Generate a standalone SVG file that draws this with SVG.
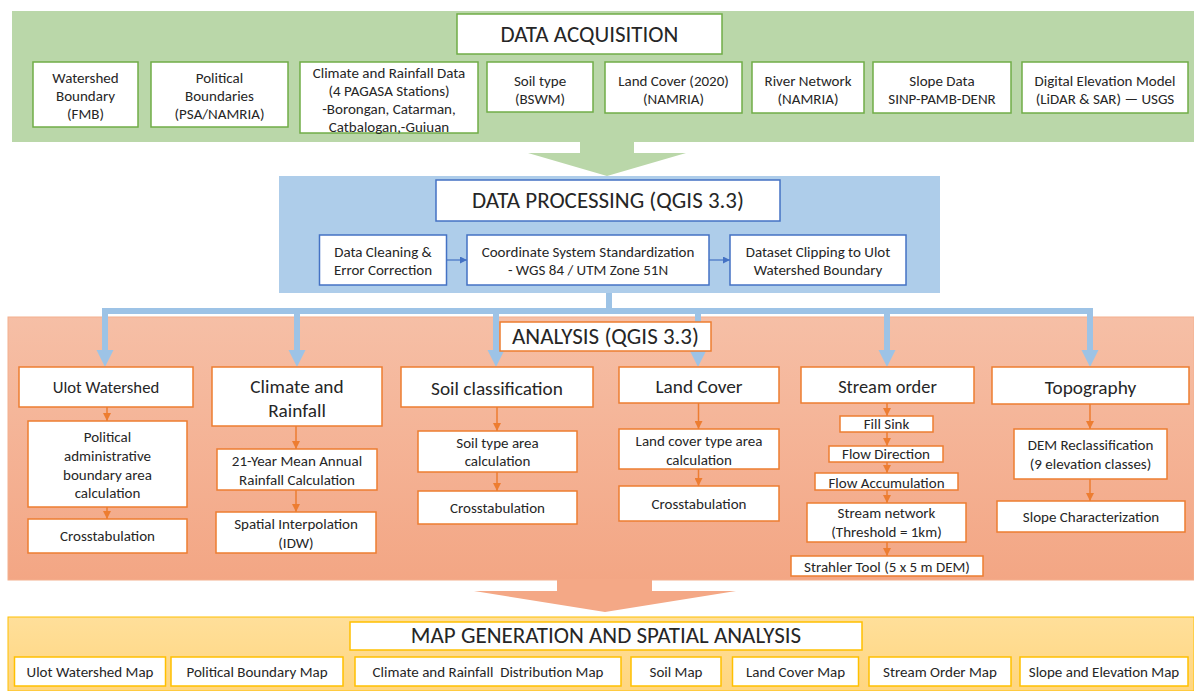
<svg xmlns="http://www.w3.org/2000/svg" width="1194" height="691" viewBox="0 0 1194 691">
<defs>
<linearGradient id="gOr" x1="0" y1="0" x2="0" y2="1"><stop offset="0" stop-color="#F6BFA6"/><stop offset="1" stop-color="#F3A684"/></linearGradient>
<linearGradient id="gYe" x1="0" y1="0" x2="0" y2="1"><stop offset="0" stop-color="#FFDF9A"/><stop offset="1" stop-color="#FFD680"/></linearGradient>
<marker id="mO" markerWidth="8" markerHeight="8" refX="8" refY="4" orient="auto" markerUnits="userSpaceOnUse"><path d="M0,0 L8,4 L0,8 z" fill="#ED7D31"/></marker>
<marker id="mB" markerWidth="7" markerHeight="7" refX="7" refY="3.5" orient="auto" markerUnits="userSpaceOnUse"><path d="M0,0 L7,3.5 L0,7 z" fill="#4472C4"/></marker>
<style>
text{font-family:Carlito,Lato,"Liberation Sans",sans-serif;fill:#262626;text-anchor:middle}
.s{font-size:15px}
.h{font-size:19.3px}
.tt{font-size:23px}
.gb{fill:#fff;stroke:#70AD47;stroke-width:1.5}
.bb{fill:#fff;stroke:#4472C4;stroke-width:1.5}
.ob{fill:#fff;stroke:#ED7D31;stroke-width:1.5}
.yb{fill:#fff;stroke:#FFC000;stroke-width:1.5}
.oa{stroke:#ED7D31;stroke-width:1.5;fill:none;marker-end:url(#mO)}
.ba{stroke:#4472C4;stroke-width:1.2;fill:none;marker-end:url(#mB)}
.dl{stroke:#9DC3E6;stroke-width:6;fill:none}
.dh{fill:#9DC3E6}
</style>
</defs>

<g id="bands">
<rect x="12" y="11" width="1182" height="131" fill="#BAD7A9"/>
<rect x="279" y="176" width="661" height="117" fill="#AECDEA"/>
<rect x="8" y="317" width="1186" height="263" fill="url(#gOr)" stroke="#F4B08E" stroke-width="1"/>
<rect x="8" y="617" width="1186" height="74" fill="url(#gYe)" stroke="#FFC000" stroke-width="1"/>
</g>

<g id="connectors">
<polygon points="580,141 634,141 634,153 686,153 607,176 528,153 580,153" fill="#BAD7A9"/>
<polygon points="557,579 652,579 652,591 736,591 605,612 474,591 557,591" fill="#F4A886"/>
<path class="ba" d="M446.5,260 H467"/>
<path class="ba" d="M709,260 H730"/>
<path class="dl" d="M609,293 V311 M105,351 V311 H1090 V351 M297,311 V351 M496,311 V351 M698,311 V351 M887,311 V351"/>
<polygon class="dh" points="96.5,350 113.5,350 105,367"/>
<polygon class="dh" points="288.5,350 305.5,350 297,367"/>
<polygon class="dh" points="487.5,350 504.5,350 496,367"/>
<polygon class="dh" points="689.5,350 706.5,350 698,367"/>
<polygon class="dh" points="878.5,350 895.5,350 887,367"/>
<polygon class="dh" points="1081.5,350 1098.5,350 1090,367"/>
<path class="oa" d="M107,407 V421"/>
<path class="oa" d="M107,507 V519"/>
<path class="oa" d="M296,426 V449"/>
<path class="oa" d="M296,490 V512"/>
<path class="oa" d="M497,407 V431"/>
<path class="oa" d="M497,472 V491"/>
<path class="oa" d="M698.5,403 V429"/>
<path class="oa" d="M698.5,469 V486"/>
<path class="oa" d="M887,403 V416"/>
<path class="oa" d="M887,432 V446"/>
<path class="oa" d="M887,462 V473"/>
<path class="oa" d="M887,490 V503"/>
<path class="oa" d="M887,542 V556"/>
<path class="oa" d="M1090,404 V429"/>
<path class="oa" d="M1090,479 V501"/>
</g>

<g id="data-acquisition">
<rect class="gb" x="457" y="14" width="265" height="40"/>
<text class="tt" x="589.5" y="41.5">DATA ACQUISITION</text>
</g>
<g id="src-watershed"><rect class="gb" x="33" y="62" width="105" height="65"/>
<text class="s" x="85.5" y="82.5">Watershed</text><text class="s" x="85.5" y="101">Boundary</text><text class="s" x="85.5" y="118.5">(FMB)</text></g>
<g id="src-political"><rect class="gb" x="151" y="62" width="137" height="65"/>
<text class="s" x="219.5" y="82.5">Political</text><text class="s" x="219.5" y="101">Boundaries</text><text class="s" x="219.5" y="118.5">(PSA/NAMRIA)</text></g>
<g id="src-climate"><rect class="gb" x="300" y="62" width="178" height="71"/>
<text class="s" x="389" y="77.5">Climate and Rainfall Data</text><text class="s" x="389" y="96">(4 PAGASA Stations)</text><text class="s" x="389" y="113.5">-Borongan, Catarman,</text><text class="s" x="389" y="132">Catbalogan,-Guiuan</text></g>
<g id="src-soil"><rect class="gb" x="487" y="62" width="106" height="50"/>
<text class="s" x="540" y="85.5">Soil type</text><text class="s" x="540" y="103.5">(BSWM)</text></g>
<g id="src-landcover"><rect class="gb" x="605" y="62" width="137" height="51"/>
<text class="s" x="673.5" y="85.5">Land Cover (2020)</text><text class="s" x="673.5" y="103.5">(NAMRIA)</text></g>
<g id="src-river"><rect class="gb" x="752" y="62" width="112" height="51"/>
<text class="s" x="808" y="85.5">River Network</text><text class="s" x="808" y="103.5">(NAMRIA)</text></g>
<g id="src-slope"><rect class="gb" x="873" y="62" width="138" height="51"/>
<text class="s" x="942" y="85.5">Slope Data</text><text class="s" x="942" y="103.5">SINP-PAMB-DENR</text></g>
<g id="src-dem"><rect class="gb" x="1022" y="62" width="166" height="51"/>
<text class="s" x="1105" y="85.5">Digital Elevation Model</text><text class="s" x="1105" y="103.5">(LiDAR &amp; SAR) — USGS</text></g>

<g id="data-processing">
<rect class="bb" x="436" y="180" width="344" height="41"/>
<text class="tt" x="608" y="208">DATA PROCESSING (QGIS 3.3)</text>
</g>
<g id="proc-cleaning"><rect class="bb" x="319.5" y="235" width="127" height="50"/>
<text class="s" x="383" y="257">Data Cleaning &amp;</text><text class="s" x="383" y="274.5">Error Correction</text></g>
<g id="proc-coordinate"><rect class="bb" x="467" y="235" width="242" height="50"/>
<text class="s" x="588" y="257">Coordinate System Standardization</text><text class="s" x="588" y="274.5">- WGS 84 / UTM Zone 51N</text></g>
<g id="proc-clipping"><rect class="bb" x="730" y="235" width="176" height="50"/>
<text class="s" x="818" y="257">Dataset Clipping to Ulot</text><text class="s" x="818" y="274.5">Watershed Boundary</text></g>

<g id="analysis">
<rect class="ob" x="500" y="322" width="211" height="29"/>
<text class="tt" x="605.5" y="344">ANALYSIS (QGIS 3.3)</text>
</g>

<g id="col-ulot">
<rect class="ob" x="19" y="367" width="174" height="40"/>
<text style="font-size:16.7px" x="106" y="392.5">Ulot Watershed</text>
<rect class="ob" x="28" y="421" width="159" height="86"/>
<text class="s" x="107.5" y="442">Political</text><text class="s" x="107.5" y="461">administrative</text><text class="s" x="107.5" y="479.5">boundary area</text><text class="s" x="107.5" y="498">calculation</text>
<rect class="ob" x="28" y="519" width="159" height="34"/>
<text class="s" x="107.5" y="541">Crosstabulation</text>
</g>
<g id="col-climate">
<rect class="ob" x="212" y="367" width="170" height="59"/>
<text class="h" x="297" y="393">Climate and</text><text class="h" x="297" y="416.5">Rainfall</text>
<rect class="ob" x="217" y="449" width="160" height="41"/>
<text class="s" x="297" y="466">21-Year Mean Annual</text><text class="s" x="297" y="484.5">Rainfall Calculation</text>
<rect class="ob" x="216" y="512" width="160" height="41"/>
<text class="s" x="296" y="528.5">Spatial Interpolation</text><text class="s" x="296" y="548">(IDW)</text>
</g>
<g id="col-soil">
<rect class="ob" x="401" y="367" width="192" height="40"/>
<text class="h" x="497" y="394.5">Soil classification</text>
<rect class="ob" x="418" y="431" width="159" height="41"/>
<text class="s" x="497.5" y="447.5">Soil type area</text><text class="s" x="497.5" y="466">calculation</text>
<rect class="ob" x="418" y="491" width="159" height="33"/>
<text class="s" x="497.5" y="512.5">Crosstabulation</text>
</g>
<g id="col-landcover">
<rect class="ob" x="619" y="367" width="160" height="36"/>
<text class="h" x="699" y="393">Land Cover</text>
<rect class="ob" x="619" y="429" width="160" height="40"/>
<text class="s" x="699" y="446">Land cover type area</text><text class="s" x="699" y="464.5">calculation</text>
<rect class="ob" x="619" y="486" width="160" height="35"/>
<text class="s" x="699" y="508.5">Crosstabulation</text>
</g>
<g id="col-stream">
<rect class="ob" x="801" y="367" width="173" height="36"/>
<text style="font-size:18.4px" x="887.5" y="392.5">Stream order</text>
<rect class="ob" x="840" y="416" width="93" height="16"/>
<text class="s" x="886.5" y="429">Fill Sink</text>
<rect class="ob" x="829" y="446" width="114" height="16"/>
<text class="s" x="886" y="459">Flow Direction</text>
<rect class="ob" x="815" y="473" width="143" height="17"/>
<text class="s" x="886.5" y="487.5">Flow Accumulation</text>
<rect class="ob" x="807" y="503" width="159" height="39"/>
<text class="s" x="886.5" y="518">Stream network</text><text class="s" x="886.5" y="537">(Threshold = 1km)</text>
<rect class="ob" x="791" y="556" width="192" height="20"/>
<text class="s" x="887" y="571.5">Strahler Tool (5 x 5 m DEM)</text>
</g>
<g id="col-topography">
<rect class="ob" x="992" y="367" width="197" height="37"/>
<text class="h" x="1090.5" y="393.5">Topography</text>
<rect class="ob" x="1014" y="429" width="153" height="50"/>
<text class="s" x="1090.5" y="450">DEM Reclassification</text><text class="s" x="1090.5" y="469">(9 elevation classes)</text>
<rect class="ob" x="997" y="501" width="188" height="31"/>
<text class="s" x="1091" y="522">Slope Characterization</text>
</g>

<g id="map-generation">
<rect class="yb" x="350" y="622" width="512" height="28"/>
<text class="tt" x="606" y="643">MAP GENERATION AND SPATIAL ANALYSIS</text>
</g>
<g id="map-ulot"><rect class="yb" x="14.5" y="657" width="151" height="29"/><text class="s" x="90" y="677">Ulot Watershed Map</text></g>
<g id="map-political"><rect class="yb" x="171" y="657" width="172" height="29"/><text class="s" x="257" y="677">Political Boundary Map</text></g>
<g id="map-climate"><rect class="yb" x="355" y="657" width="266" height="29"/><text class="s" x="488" y="677" style="white-space:pre">Climate and Rainfall  Distribution Map</text></g>
<g id="map-soil"><rect class="yb" x="631" y="657" width="90" height="29"/><text class="s" x="676" y="677">Soil Map</text></g>
<g id="map-landcover"><rect class="yb" x="732.5" y="657" width="126" height="29"/><text class="s" x="795.5" y="677">Land Cover Map</text></g>
<g id="map-stream"><rect class="yb" x="869" y="657" width="142" height="29"/><text class="s" x="940" y="677">Stream Order Map</text></g>
<g id="map-slope"><rect class="yb" x="1020" y="657" width="168" height="29"/><text class="s" x="1104" y="677">Slope and Elevation Map</text></g>
</svg>
